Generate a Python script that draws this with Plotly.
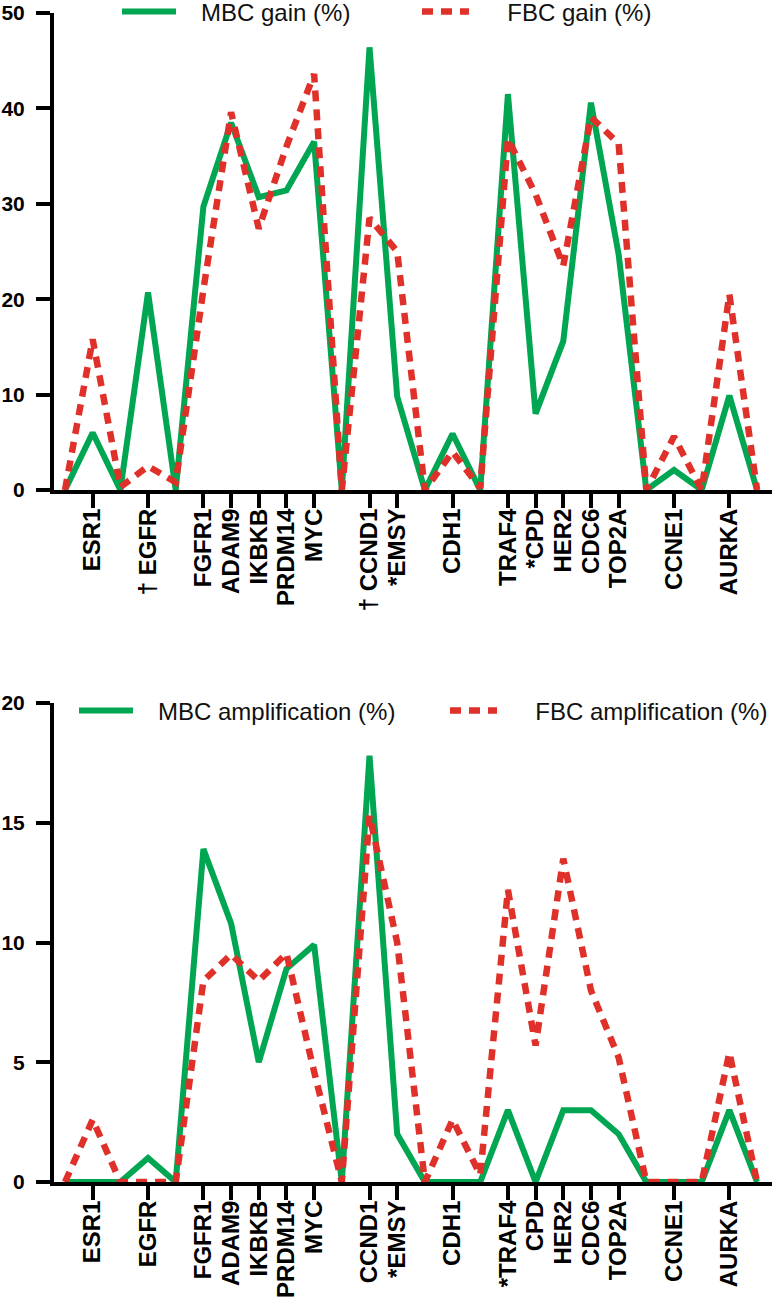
import plotly.graph_objects as go

# x positions (index 0..25); genes at selected positions, zeros in gaps
x_idx = list(range(26))
gene_pos = [1, 3, 5, 6, 7, 8, 9, 11, 12, 14, 16, 17, 18, 19, 20, 22, 24]
top_labels = ["ESR1", "† EGFR", "FGFR1", "ADAM9", "IKBKB", "PRDM14", "MYC",
              "† CCND1", "*EMSY", "CDH1", "TRAF4", "*CPD", "HER2", "CDC6",
              "TOP2A", "CCNE1", "AURKA"]
bottom_labels = ["ESR1", "EGFR", "FGFR1", "ADAM9", "IKBKB", "PRDM14", "MYC",
                 "CCND1", "*EMSY", "CDH1", "*TRAF4", "CPD", "HER2", "CDC6",
                 "TOP2A", "CCNE1", "AURKA"]

mbc_gain = [0, 6.0, 0, 20.7, 0, 29.7, 38.5, 30.7, 31.4, 36.5, 0, 46.4, 9.8, 0,
            5.9, 0, 41.5, 8.0, 15.6, 40.6, 24.7, 0, 2.1, 0, 9.9, 0]
fbc_gain = [0, 15.8, 0.3, 2.5, 0.8, 21.0, 39.6, 27.4, 36.0, 43.6, 0, 28.5, 25.0, 0,
            4.0, 0.2, 36.8, 31.0, 23.5, 39.1, 36.3, 0, 5.6, 0, 20.5, 0]
mbc_amp = [0, 0, 0, 1.0, 0, 13.9, 10.8, 5.0, 8.9, 9.9, 0, 17.8, 2.0, 0,
           0, 0, 3.0, 0, 3.0, 3.0, 2.0, 0, 0, 0, 3.0, 0]
fbc_amp = [0, 2.6, 0, 0, 0, 8.4, 9.5, 8.4, 9.55, 4.6, 0, 15.3, 10.0, 0,
           2.6, 0.3, 12.2, 5.7, 13.5, 8.0, 5.2, 0, 0, 0, 5.4, 0]

series_names = ["MBC gain (%)", "FBC gain (%)",
                "MBC amplification (%)", "FBC amplification (%)"]

GREEN = "#00a651"
RED = "#e0302a"
W, H = 774, 1311
L, R = 54, 2
NB = "\u00a0"

fig = go.Figure()
fig.add_trace(go.Scatter(x=x_idx, y=mbc_gain, mode="lines", name=NB * 3 + series_names[0],
                         line=dict(color=GREEN, width=6), xaxis="x", yaxis="y",
                         legend="legend"))
fig.add_trace(go.Scatter(x=x_idx, y=fbc_gain, mode="lines", name=NB * 5 + series_names[1],
                         line=dict(color=RED, width=6.5, dash="11px,8px"),
                         xaxis="x", yaxis="y", legend="legend2"))
fig.add_trace(go.Scatter(x=x_idx, y=mbc_amp, mode="lines", name=NB * 3 + series_names[2],
                         line=dict(color=GREEN, width=6), xaxis="x2", yaxis="y2",
                         legend="legend3"))
fig.add_trace(go.Scatter(x=x_idx, y=fbc_amp, mode="lines", name=NB * 5 + series_names[3],
                         line=dict(color=RED, width=6.5, dash="11px,8px"),
                         xaxis="x2", yaxis="y2", legend="legend4"))

def py(p):
    return 1 - p / H

def px(p):
    return (p - L) / (W - L - R)

xcommon = dict(range=[-0.397, 25.54], showline=True, linecolor="black", linewidth=4,
               ticks="outside", ticklen=14, tickwidth=3.5, tickcolor="black",
               tickvals=gene_pos, tickangle=-90, showgrid=False, zeroline=False,
               automargin=False,
               tickfont=dict(family="Liberation Sans, Arial", size=24, color="black",
                             weight="bold"),
               ticklabelstandoff=-9, domain=[0, 1])
ycommon = dict(showline=True, linecolor="black", linewidth=4, ticks="outside",
               ticklen=14, tickwidth=4, tickcolor="black", showgrid=False,
               zeroline=False, ticklabelstandoff=7, automargin=False,
               tickfont=dict(family="Liberation Sans, Arial", size=21, color="black",
                             weight="bold"))

legfont = dict(family="Liberation Sans, Arial", size=24, color="#111")
legcommon = dict(orientation="h", font=legfont, bgcolor="rgba(0,0,0,0)")

fig.update_layout(
    width=W, height=H,
    margin=dict(l=L, r=R, t=0, b=0, autoexpand=False),
    paper_bgcolor="white", plot_bgcolor="white",
    showlegend=True,
    xaxis=dict(**xcommon, anchor="y", ticktext=top_labels),
    yaxis=dict(**ycommon, anchor="x", range=[0, 50], dtick=10,
               domain=[py(490), py(13)]),
    xaxis2=dict(**xcommon, anchor="y2", ticktext=bottom_labels),
    yaxis2=dict(**ycommon, anchor="x2", range=[0, 20], dtick=5,
                domain=[py(1182), py(703)]),
    legend=dict(**legcommon, x=px(117), xanchor="left", y=py(12), yanchor="middle",
                itemwidth=54),
    legend2=dict(**legcommon, x=px(417), xanchor="left", y=py(12), yanchor="middle",
                 itemwidth=47),
    legend3=dict(**legcommon, x=px(74), xanchor="left", y=py(711), yanchor="middle",
                 itemwidth=54),
    legend4=dict(**legcommon, x=px(445), xanchor="left", y=py(711), yanchor="middle",
                 itemwidth=47),
)

fig.write_html("out.html", config={"displayModeBar": False},
               post_script="document.body.style.margin='0px';")
